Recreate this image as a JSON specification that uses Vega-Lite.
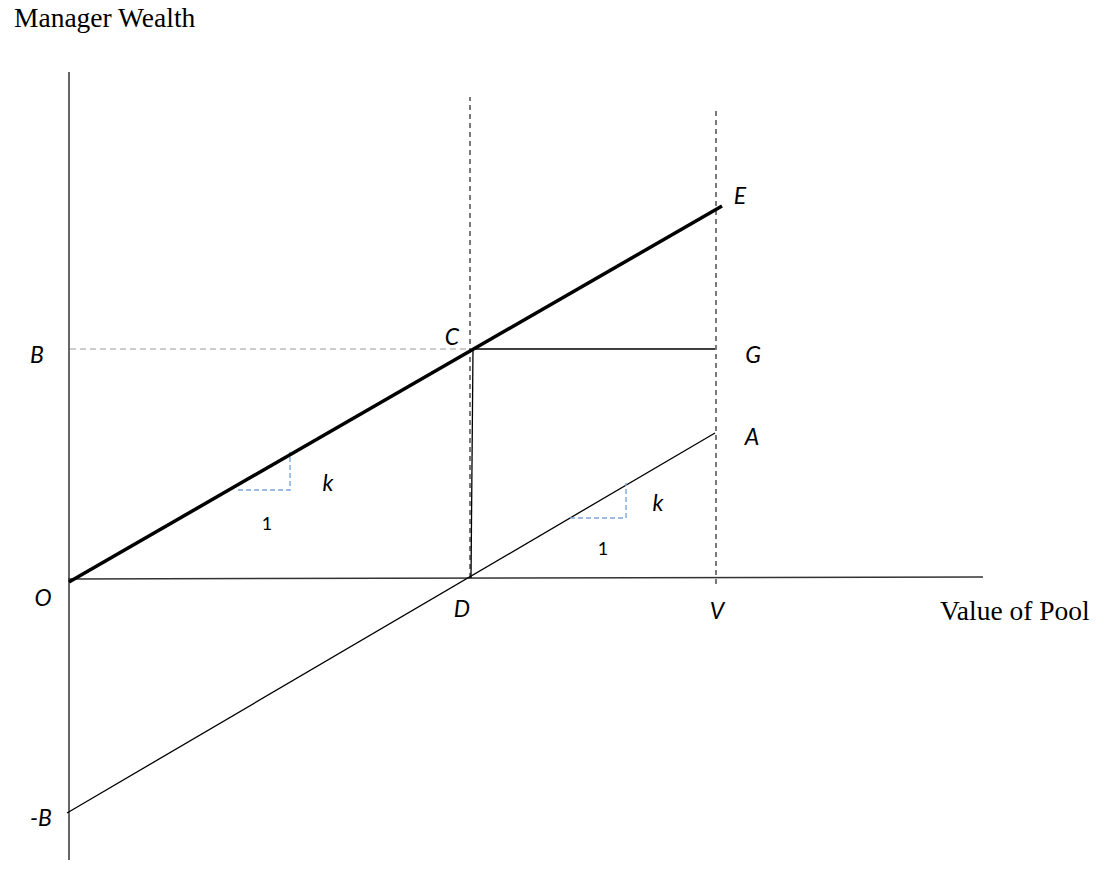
{
  "$schema": "https://vega.github.io/schema/vega-lite/v6.json",
  "width": 1106,
  "height": 892,
  "autosize": {"type": "fit", "contains": "padding"},
  "padding": 0,
  "background": "white",
  "config": {"view": {"stroke": null}},
  "datasets": {
    "axes": [
      {"seg": "yaxis", "x": 1, "y": 508},
      {"seg": "yaxis", "x": 1, "y": -280},
      {"seg": "xaxis", "x": 0, "y": 1},
      {"seg": "xaxis", "x": 915, "y": 3}
    ],
    "thick": [
      {"seg": "OE", "x": 1, "y": -2},
      {"seg": "OE", "x": 654, "y": 374}
    ],
    "thin": [
      {"seg": "CG", "x": 405, "y": 231},
      {"seg": "CG", "x": 647, "y": 231},
      {"seg": "CD", "x": 405, "y": 231},
      {"seg": "CD", "x": 403, "y": 2},
      {"seg": "BA", "x": -1, "y": -233},
      {"seg": "BA", "x": 647, "y": 147}
    ],
    "vdash": [
      {"seg": "D", "x": 402, "y": 483},
      {"seg": "D", "x": 402, "y": 2},
      {"seg": "V", "x": 648, "y": 472},
      {"seg": "V", "x": 648, "y": -4}
    ],
    "bdash": [
      {"seg": "B", "x": 2, "y": 231},
      {"seg": "B", "x": 402, "y": 231}
    ],
    "blue": [
      {"seg": "t1", "x": 170, "y": 90},
      {"seg": "t1", "x": 222, "y": 90},
      {"seg": "t1", "x": 222, "y": 128},
      {"seg": "t2", "x": 502, "y": 62},
      {"seg": "t2", "x": 558, "y": 62},
      {"seg": "t2", "x": 558, "y": 97}
    ],
    "ilabels": [
      {"t": "O", "x": -25, "y": -19},
      {"t": "D", "x": 394, "y": -30},
      {"t": "V", "x": 649, "y": -32},
      {"t": "B", "x": -31, "y": 224},
      {"t": "C", "x": 384, "y": 242},
      {"t": "G", "x": 685, "y": 224},
      {"t": "A", "x": 684, "y": 142},
      {"t": "E", "x": 672, "y": 383},
      {"t": "-B", "x": -27, "y": -239},
      {"t": "k", "x": 260, "y": 96},
      {"t": "k", "x": 590, "y": 76}
    ],
    "ulabels": [
      {"t": "1", "x": 199, "y": 55},
      {"t": "1", "x": 535, "y": 30}
    ],
    "titles": [
      {"t": "Manager Wealth", "x": -54, "y": 561},
      {"t": "Value of Pool", "x": 872, "y": -32}
    ]
  },
  "encoding": {
    "x": {"field": "x", "type": "quantitative", "scale": {"domain": [-68, 1038], "nice": false, "zero": false}, "axis": null},
    "y": {"field": "y", "type": "quantitative", "scale": {"domain": [-312, 580], "nice": false, "zero": false}, "axis": null}
  },
  "layer": [
    {"data": {"name": "axes"}, "mark": {"type": "line", "stroke": "#333333", "strokeWidth": 1.5}, "encoding": {"detail": {"field": "seg"}, "order": {"field": "x"}}},
    {"data": {"name": "bdash"}, "mark": {"type": "line", "stroke": "#9a9a9a", "strokeWidth": 1, "strokeDash": [6, 4]}, "encoding": {"detail": {"field": "seg"}}},
    {"data": {"name": "vdash"}, "mark": {"type": "line", "stroke": "#222222", "strokeWidth": 1.2, "strokeDash": [5, 4], "orient": "vertical"}, "encoding": {"detail": {"field": "seg"}, "order": {"field": "y"}}},
    {"data": {"name": "thin"}, "mark": {"type": "line", "stroke": "black", "strokeWidth": 1.3}, "encoding": {"detail": {"field": "seg"}, "order": {"field": "x"}}},
    {"data": {"name": "blue"}, "mark": {"type": "line", "stroke": "#7aa7d9", "strokeWidth": 1.4, "strokeDash": [5, 3]}, "encoding": {"detail": {"field": "seg"}, "order": {"field": "y"}}},
    {"data": {"name": "thick"}, "mark": {"type": "line", "stroke": "black", "strokeWidth": 3.5}, "encoding": {"detail": {"field": "seg"}}},
    {"data": {"name": "ilabels"}, "mark": {"type": "text", "font": "Lato", "fontStyle": "italic", "fontSize": 23, "align": "center", "baseline": "middle", "color": "black"}, "encoding": {"text": {"field": "t"}}},
    {"data": {"name": "ulabels"}, "mark": {"type": "text", "font": "Lato", "fontSize": 18, "align": "center", "baseline": "middle", "color": "black"}, "encoding": {"text": {"field": "t"}}},
    {"data": {"name": "titles"}, "mark": {"type": "text", "font": "Liberation Serif", "fontSize": 27.5, "align": "left", "baseline": "middle", "color": "black"}, "encoding": {"text": {"field": "t"}}}
  ]
}
